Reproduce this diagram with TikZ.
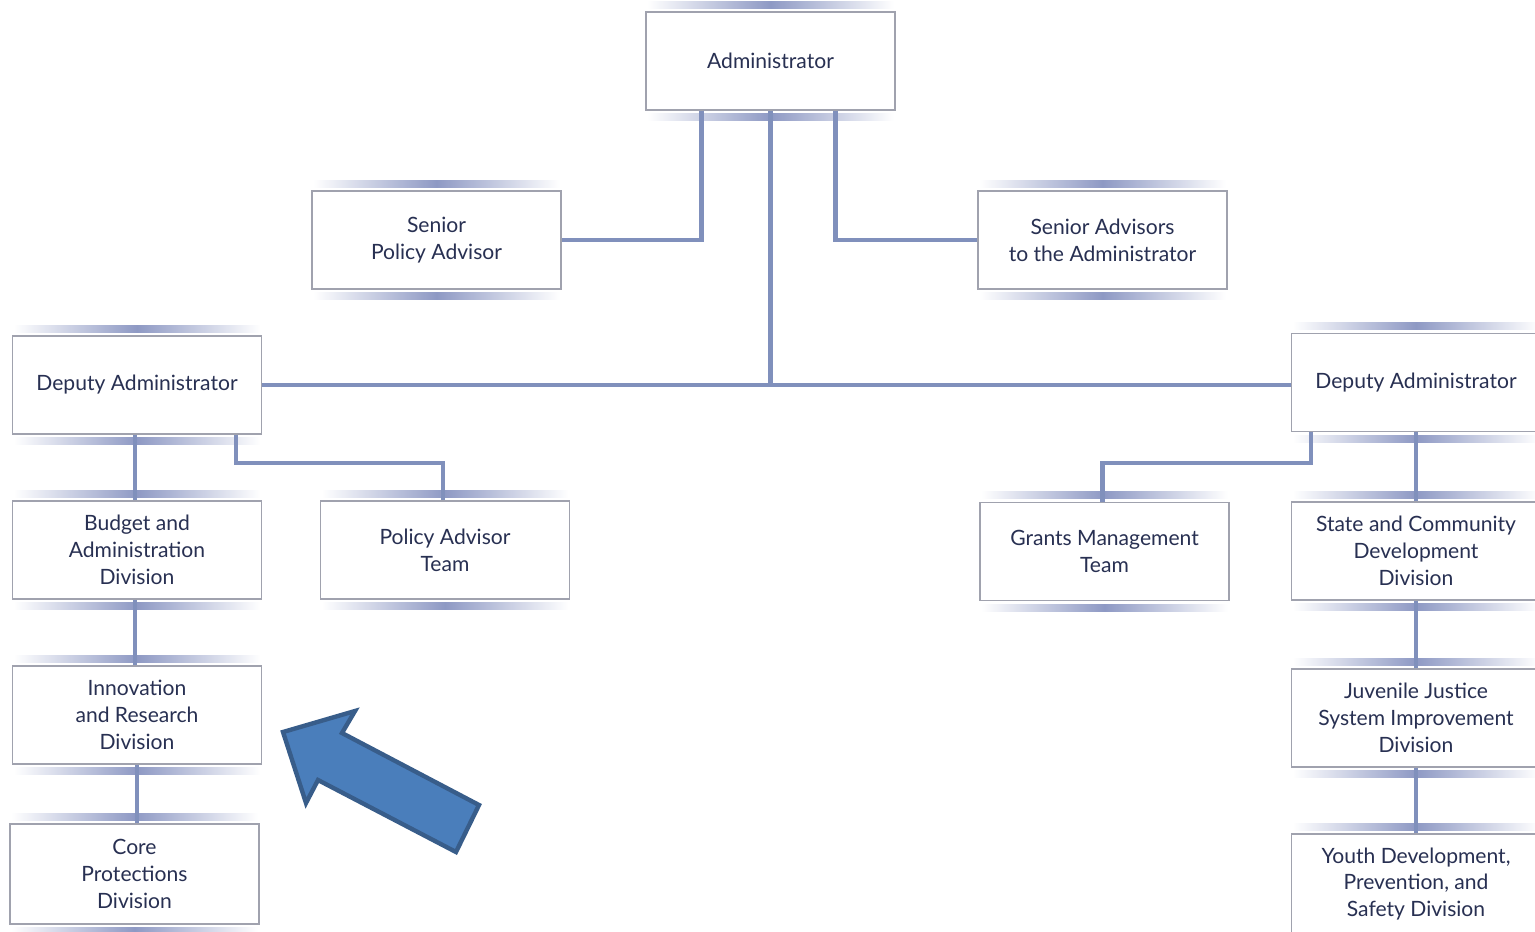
\documentclass[tikz,border=0pt]{standalone}
\usepackage{fontspec}
\setmainfont{Lato}
\usetikzlibrary{calc}
\definecolor{linkblue}{RGB}{128,144,188}
\definecolor{bandblue}{RGB}{142,153,196}
\definecolor{boxgray}{RGB}{160,162,174}
\definecolor{txtnavy}{RGB}{40,48,82}
\definecolor{arrowfill}{RGB}{74,126,187}
\definecolor{arrowedge}{RGB}{56,93,138}
\newcommand{\bands}[1]{%
  \shade[left color=white, right color=white, middle color=bandblue]
    ($(#1.north west)+(2,-10)$) rectangle ($(#1.north east)+(-2,-3)$);
  \shade[left color=white, right color=white, middle color=bandblue]
    ($(#1.south west)+(2,3)$) rectangle ($(#1.south east)+(-2,10)$);}

\begin{document}
\begin{tikzpicture}[x=0.02cm, y=-0.02cm,
    unit/.style={draw=boxgray, line width=0.8pt, fill=white, inner sep=0pt,
      minimum width=4.98cm, minimum height=1.96cm, align=center,
      text=txtnavy, font=\fontsize{12}{15.3}\selectfont},
    link/.style={draw=linkblue, line width=2.3pt}]
        \clip (0,0) rectangle (1535,931);
        \fill[white] (0,0) rectangle (1535,931);
        \node[unit] (adm) at (770.5,61) {Administrator};
        \node[unit] (spa) at (436.5,240) {Senior\\Policy Advisor};
        \node[unit] (sat) at (1102.5,240) {Senior Advisors\\to the Administrator};
        \node[unit] (depl) at (137,385) {Deputy Administrator};
        \node[unit] (depr) at (1416,382.5) {Deputy Administrator};
        \node[unit] (bud) at (137,550) {Budget and\\Administration\\Division};
        \node[unit] (pat) at (445,550) {Policy Advisor\\Team};
        \node[unit] (gmt) at (1104.5,551.5) {Grants Management\\Team};
        \node[unit] (scd) at (1416,551) {State and Community\\Development\\Division};
        \node[unit] (ird) at (137,715) {Innovation\\and Research\\Division};
        \node[unit] (jjs) at (1416,718) {Juvenile Justice\\System Improvement\\Division};
        \node[unit, minimum height=2cm] (cpd) at (134.5,874) {Core\\Protections\\Division};
        \node[unit, minimum height=2cm] (ydp) at (1416,884) {Youth Development,\\Prevention, and\\Safety Division};
        \foreach \n in {adm,spa,sat,depl,depr,bud,pat,gmt,scd,ird,jjs,cpd,ydp} {\bands{\n}}
        \draw[link] ($(adm.south)+(-69,0)$) |- (spa.east);
        \draw[link] ($(adm.south)+(65,0)$) |- (sat.west);
        \draw[link] (adm.south) -- (adm.south |- depl.east);
        \draw[link] (depl.east) -- (depl.east -| depr.west);
        \draw[link] ($(depl.south)+(-2,0)$) -- ($(bud.north)+(-2,0)$);
        \draw[link] ($(bud.south)+(-2,0)$) -- ($(ird.north)+(-2,0)$);
        \draw[link] (ird.south) -- (ird.south |- cpd.north);
        \draw[link] ($(depl.south)+(99,0)$) -- ++(0,28) -| ($(pat.north)+(-2,0)$);
        \draw[link] ($(depr.south)+(-105,0)$) -- ++(0,31) -| ($(gmt.north)+(-2,0)$);
        \draw[link] (depr.south) -- (scd.north);
        \draw[link] (scd.south) -- (jjs.north);
        \draw[link] (jjs.south) -- (ydp.north);
        \filldraw[fill=arrowfill, draw=arrowedge, line width=2.5pt, line join=miter]
          (283,732) -- (355,711) -- (342,733) -- (479,805) -- (456,852)
          -- (318,780) -- (306,803) -- cycle;
\end{tikzpicture}
\end{document}
